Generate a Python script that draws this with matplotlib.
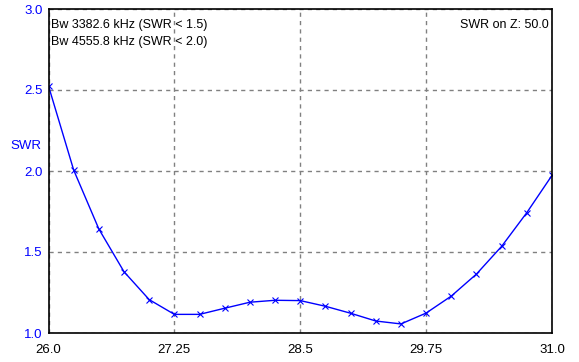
import matplotlib
matplotlib.use("Agg")
import matplotlib.pyplot as plt

freq = [26.0, 26.25, 26.5, 26.75, 27.0, 27.25, 27.5, 27.75, 28.0, 28.25, 28.5,
        28.75, 29.0, 29.25, 29.5, 29.75, 30.0, 30.25, 30.5, 30.75, 31.0]
swr = [2.525, 2.006, 1.642, 1.378, 1.206, 1.115, 1.115, 1.153, 1.19, 1.202, 1.2,
       1.165, 1.122, 1.074, 1.056, 1.123, 1.228, 1.364, 1.535, 1.743, 1.973]
xticks = [26.0, 27.25, 28.5, 29.75, 31.0]
xticklabels = ["26.0", "27.25", "28.5", "29.75", "31.0"]
yticks = [1.0, 1.5, 2.0, 2.5, 3.0]
yticklabels = ["1.0", "1.5", "2.0", "2.5", "3.0"]

plt.rcParams['font.family'] = ['Liberation Sans', 'DejaVu Sans']

fig = plt.figure(figsize=(5.79, 3.62), dpi=100)
ax = fig.add_axes([48.5/579, 29/362, (552-48.5)/579, (333-9)/362])

ax.plot(freq, swr, color='#0000ff', lw=1.0, marker='x', ms=5, mew=0.8)
ax.set_xlim(26.0, 31.0)
ax.set_ylim(1.0, 3.0)
ax.set_xticks(xticks)
ax.set_xticklabels(xticklabels, fontsize=9.5, color='black')
ax.set_yticks(yticks)
ax.set_yticklabels(yticklabels, fontsize=9.5, color='#0000ff')
ax.tick_params(axis='x', length=0, pad=8)
ax.tick_params(axis='y', length=0, pad=4)
ax.grid(True, color='#808080', ls=(0, (3, 3)), lw=1.0)
for s in ax.spines.values():
    s.set_color('black')
    s.set_linewidth(1.2)

fig.text(10/579, 1 - 146/362, "SWR", color='#0000ff', fontsize=9.5, ha='left', va='center')
ax.text(0.005, 0.951, "Bw 3382.6 kHz (SWR < 1.5)", transform=ax.transAxes,
        fontsize=9, ha='left', va='center')
ax.text(0.005, 0.898, "Bw 4555.8 kHz (SWR < 2.0)", transform=ax.transAxes,
        fontsize=9, ha='left', va='center')
ax.text(0.994, 0.951, "SWR on Z: 50.0", transform=ax.transAxes,
        fontsize=9, ha='right', va='center')

fig.savefig("out.png", dpi=100)
